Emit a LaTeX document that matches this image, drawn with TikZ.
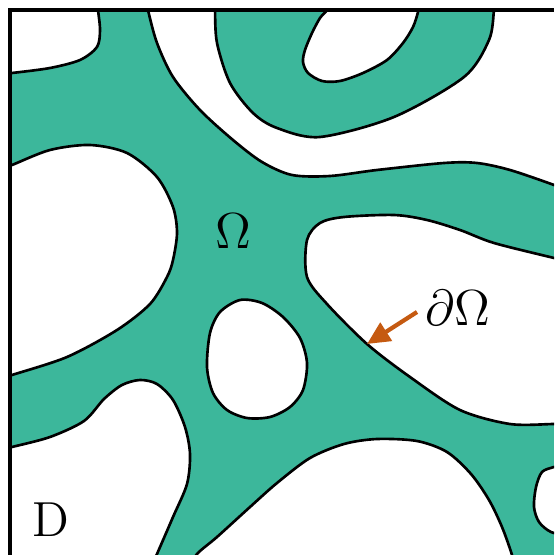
\documentclass[tikz,border=0pt]{standalone}
\usepackage{amsmath}
\usepackage{tikz}
\usetikzlibrary{arrows.meta}

\definecolor{domaingreen}{RGB}{60,183,155}
\definecolor{arroworange}{RGB}{197,90,17}

\begin{document}
\begin{tikzpicture}[
    x=0.01cm, y=-0.01cm,
    hole/.style={fill=white, draw=black, line width=0.75pt},
    frame/.style={draw=black, line width=1pt},
    lbl/.style={font=\fontsize{14}{16}\selectfont, inner sep=0pt},
    arr/.style={-{Triangle[length=6.5pt, width=6pt]}, line width=1.2pt, draw=arroworange}
  ]
    \useasboundingbox (0,0) rectangle (554,555);
    \fill[domaingreen] (10,10) rectangle (554,555);
    \begin{scope}
      \clip (10,10) rectangle (554,555);
      \filldraw[hole] plot[smooth] coordinates {(0,74) (12,73) (50,68) (80,60) (97,47) (100,30) (98,10) (97,0)} -- (0,0) -- cycle;
      \filldraw[hole] plot[smooth] coordinates {(147,0) (148,10) (157,43) (173,77) (200,110) (233,140) (262,162) (292,175) (330,176) (377,170) (444,163) (477,163) (510,170) (554,185) (570,192)}
        -- (570,0) --
        plot[smooth] coordinates {(495,0) (494,10) (489,40) (464,77) (394,117) (320,137) (277,128) (253,113) (230,83) (217,43) (215,10) (215,0)} -- cycle;
      \filldraw[hole] plot[smooth] coordinates {(329,0) (327,10) (320,18) (312,33) (305,50) (303,62) (308,73) (322,81) (340,81) (363,73) (387,60) (403,43) (413,27) (418,12) (420,0)} -- cycle;
      \filldraw[hole] plot[smooth] coordinates {(570,262) (554,258) (494,243) (460,230) (427,220) (394,215) (344,217) (320,223) (307,240) (307,277) (327,304) (367,344) (410,377) (460,410) (510,424) (554,424) (570,424)} -- cycle;
      \filldraw[hole] plot[smooth] coordinates {(0,169) (12,165) (50,150) (90,145) (127,153) (157,177) (173,207) (177,233) (173,260) (167,277) (150,304) (117,330) (67,357) (12,375) (0,379)} -- cycle;
      \filldraw[hole] plot[smooth] coordinates {(0,450) (12,447) (50,437) (84,421) (104,399) (122,385) (140,380) (157,384) (173,400) (185,427) (190,454) (187,484) (173,517) (157,554) (150,570)} -- (0,570) -- cycle;
      \filldraw[hole] plot[smooth] coordinates {(188,570) (197,554) (217,537) (250,507) (277,483) (310,458) (344,444) (377,439) (417,441) (447,452) (471,474) (489,500) (502,527) (512,555) (515,570)} -- cycle;
      \filldraw[hole] plot[smooth] coordinates {(570,463) (554,467) (542,472) (536,487) (534,507) (539,522) (551,532) (570,536)} -- cycle;
      \filldraw[hole] plot[smooth cycle] coordinates {(240,300) (262,303) (283,317) (300,338) (307,363) (303,390) (290,407) (270,417) (247,418) (227,410) (213,393) (207,367) (210,333) (220,312)};
    \end{scope}
    \draw[frame] (10,555) -- (10,10) -- (554,10);

    \node[lbl] (omega) at (233,231) {$\Omega$};
    \node[lbl] (bdry) at (458,308) {$\partial\Omega$};
    \node[lbl] (dom) at (51,520) {D};
    \coordinate (tail) at (417,312);
    \coordinate (tip) at (367,344);
    \draw[arr] (tail) -- (tip);
\end{tikzpicture}
\end{document}
